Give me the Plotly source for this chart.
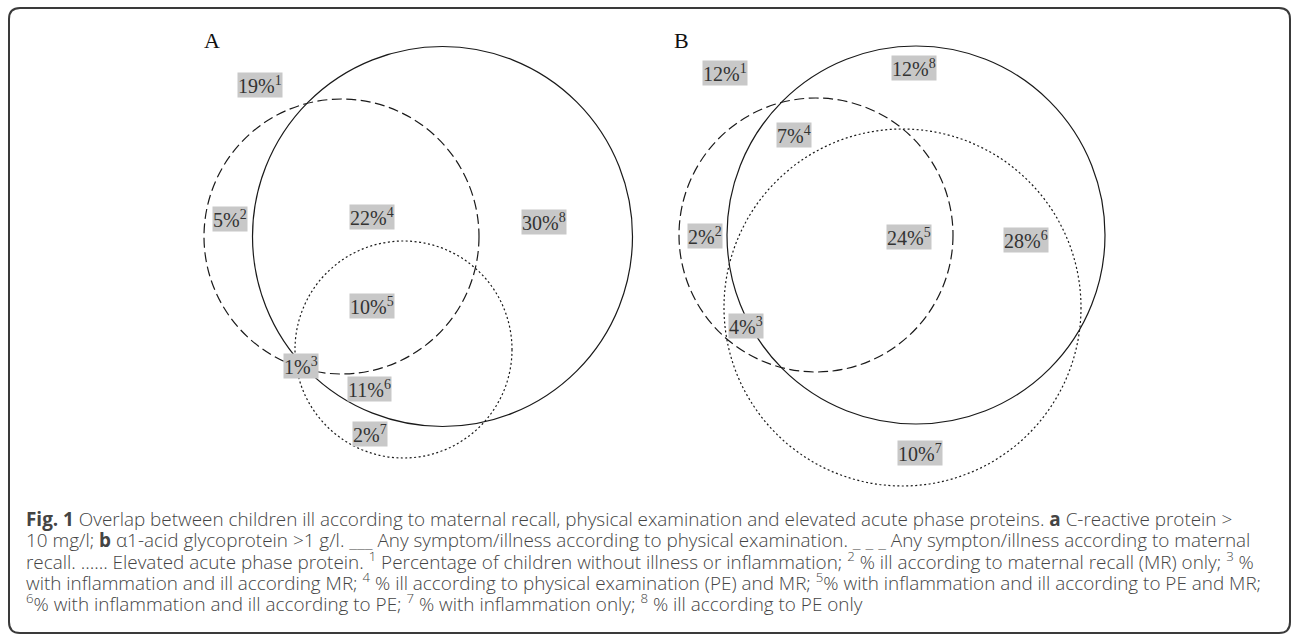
import plotly.graph_objects as go

# ---------------- data ----------------
panel_names = ["A", "B"]
region_ids = [1, 2, 3, 4, 5, 6, 7, 8]
pct_A = [19, 5, 1, 22, 10, 11, 2, 30]
pct_B = [12, 2, 4, 7, 24, 28, 10, 12]

caption_lines = [
    "<b>Fig. 1</b> Overlap between children ill according to maternal recall, physical examination and elevated acute phase proteins. <b>a</b> C-reactive protein >",
    "10 mg/l; <b>b</b> α1-acid glycoprotein >1 g/l. ___ Any symptom/illness according to physical examination. _ _ _ Any sympton/illness according to maternal",
    "recall. …… Elevated acute phase protein. <sup>1</sup> Percentage of children without illness or inflammation; <sup>2</sup> % ill according to maternal recall (MR) only; <sup>3</sup> %",
    "with inflammation and ill according MR; <sup>4</sup> % ill according to physical examination (PE) and MR; <sup>5</sup>% with inflammation and ill according to PE and MR;",
    "<sup>6</sup>% with inflammation and ill according to PE; <sup>7</sup> % with inflammation only; <sup>8</sup> % ill according to PE only",
]

# ---------------- layout geometry (pixels) ----------------
W, H = 1292, 637
# circles: (cx, cy, r, style) ; solid = PE, dash = MR, dot = acute phase protein
circles = {
    "A": [(442.5, 236.5, 190.0, "solid"), (341.5, 236.5, 137.5, "dash"), (403.5, 349.5, 108.5, "dot")],
    "B": [(916.0, 235.0, 189.0, "solid"), (816.0, 235.0, 137.0, "dash"), (902.5, 307.5, 178.5, "dot")],
}
label_pos = {
    "A": [(260, 85), (230, 219), (301, 366), (372, 217), (372, 306), (369, 389), (370, 434), (544, 222)],
    "B": [(725, 73), (705, 236), (746, 326), (794, 135), (909, 237), (1026, 240), (920, 453), (914, 68)],
}
panel_label_pos = {"A": (212, 40), "B": (681, 40)}
dash_map = {"solid": "solid", "dash": "10px,4.5px", "dot": "2px,2.5px"}

fig = go.Figure()

shapes = []
# rounded frame
x0, y0, x1, y1, rr = 9, 8, 1290, 633, 11
frame = (f"M {x0+rr},{y0} L {x1-rr},{y0} Q {x1},{y0} {x1},{y0+rr} L {x1},{y1-rr} "
         f"Q {x1},{y1} {x1-rr},{y1} L {x0+rr},{y1} Q {x0},{y1} {x0},{y1-rr} "
         f"L {x0},{y0+rr} Q {x0},{y0} {x0+rr},{y0} Z")
shapes.append(dict(type="path", path=frame, xref="x", yref="y",
                   line=dict(color="#3a3a3a", width=2)))

for p in panel_names:
    for cx, cy, r, st in circles[p]:
        shapes.append(dict(type="circle", xref="x", yref="y",
                           x0=cx - r, x1=cx + r, y0=cy - r, y1=cy + r,
                           line=dict(color="#1a1a1a", width=1.2, dash=dash_map[st])))

annotations = []
for p, vals in zip(panel_names, [pct_A, pct_B]):
    px, py = panel_label_pos[p]
    annotations.append(dict(x=px, y=py, xref="x", yref="y", text=p, showarrow=False,
                            xanchor="center", yanchor="middle",
                            font=dict(family="Liberation Serif", size=22, color="#111")))
    for (lx, ly), v, rid in zip(label_pos[p], vals, region_ids):
        annotations.append(dict(x=lx, y=ly, xref="x", yref="y",
                                text=f"{v}%<sup>{rid}</sup>", showarrow=False,
                                xanchor="center", yanchor="middle",
                                bgcolor="#c8c8c8", borderpad=0,
                                font=dict(family="Liberation Serif", size=20, color="#333")))

cap_y = [519, 540, 561, 582, 603]
for line, cy in zip(caption_lines, cap_y):
    annotations.append(dict(x=24, y=cy, xref="x", yref="y", text=line, showarrow=False,
                            xanchor="left", yanchor="middle", align="left",
                            font=dict(family="Open Sans", size=18.9, color="#444", weight=300)))

fig.update_layout(
    width=W, height=H, margin=dict(l=0, r=0, t=0, b=0),
    paper_bgcolor="white", plot_bgcolor="white",
    xaxis=dict(range=[0, W], visible=False, fixedrange=True),
    yaxis=dict(range=[H, 0], visible=False, fixedrange=True),
    shapes=shapes, annotations=annotations, showlegend=False,
)
fig.write_html("out.html", config={"displayModeBar": False},
               post_script="document.body.style.margin='0';document.body.style.overflow='hidden';")
